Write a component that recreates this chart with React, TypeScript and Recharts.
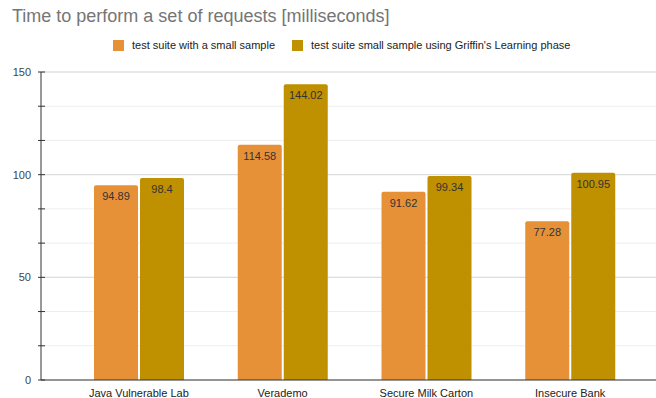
import { BarChart, Bar, XAxis, YAxis, CartesianGrid, LabelList } from 'recharts';

const projects = ['Java Vulnerable Lab', 'Verademo', 'Secure Milk Carton', 'Insecure Bank'];
const smallSample = [94.89, 114.58, 91.62, 77.28];
const learningPhase = [98.4, 144.02, 99.34, 100.95];
const yTicks = [0, 50 / 3, 100 / 3, 50, 200 / 3, 250 / 3, 100, 350 / 3, 400 / 3, 150];
const majorTicks = [50, 100, 150];
const Y_MAX = 150;

const SERIES = [
  { key: 'small', name: 'test suite with a small sample', color: '#e69138' },
  { key: 'learning', name: "test suite small sample using Griffin's Learning phase", color: '#bf9000' },
];

const data = projects.map((name, i) => ({
  name,
  small: smallSample[i],
  learning: learningPhase[i],
}));

const FONT = '"Liberation Sans", Arial, sans-serif';

const YTick = (props: any) => {
  const { x, y, payload } = props;
  const v = payload.value;
  const isMajor = Math.abs(v - Math.round(v / 50) * 50) < 0.01;
  return (
    <g>
      <line x1={x + 7} x2={x + 14} y1={y} y2={y} stroke="#333" strokeWidth={1} />
      {isMajor && (
        <text x={x} y={y} dy={4} textAnchor="end" fontSize={11} fill="#444" fontFamily={FONT}>
          {Math.round(v)}
        </text>
      )}
    </g>
  );
};

// major gridlines, mapped by hand from the plot offset
const majorLines = ({ offset }: any) =>
  majorTicks.map((v) => offset.top + offset.height * (1 - v / Y_MAX));

export default function App() {
  return (
    <div style={{ position: 'absolute', left: 0, top: 0, width: 656, height: 398, background: '#fff' }}>
      <div
        style={{
          position: 'absolute',
          left: 12,
          top: 6,
          fontFamily: FONT,
          fontSize: 18,
          color: '#757575',
          whiteSpace: 'nowrap',
        }}
      >
        Time to perform a set of requests [milliseconds]
      </div>
      {/* legend */}
      <div
        style={{
          position: 'absolute',
          top: 39,
          left: 113,
          display: 'flex',
          fontFamily: FONT,
          fontSize: 11,
          color: '#222',
          whiteSpace: 'nowrap',
        }}
      >
        {SERIES.map((s, i) => (
          <div key={s.key} style={{ display: 'flex', alignItems: 'center', marginLeft: i ? 17 : 0 }}>
            <span style={{ width: 11, height: 11, background: s.color, display: 'inline-block', marginRight: 8 }} />
            <span>{s.name}</span>
          </div>
        ))}
      </div>
      <BarChart
        width={656}
        height={398}
        data={data}
        margin={{ top: 72, right: 0, bottom: 0, left: 0 }}
        barGap={2}
        barSize={44}
      >
        <CartesianGrid vertical={false} stroke="#eeeeee" />
        <CartesianGrid vertical={false} stroke="#d9d9d9" horizontalCoordinatesGenerator={majorLines} />
        <XAxis
          dataKey="name"
          height={18}
          padding={{ left: 26, right: 14 }}
          stroke="#333"
          tickLine={false}
          tickMargin={3}
          tick={{ fontSize: 11, fill: '#222', fontFamily: FONT }}
          interval={0}
        />
        <YAxis
          width={41}
          domain={[0, Y_MAX]}
          ticks={yTicks}
          interval={0}
          stroke="#333"
          tickLine={false}
          tickSize={0}
          tickMargin={10}
          tick={<YTick />}
        />
        {SERIES.map((s) => (
          <Bar key={s.key} dataKey={s.key} name={s.name} fill={s.color} radius={[2, 2, 0, 0]} isAnimationActive={false}>
            <LabelList
              dataKey={s.key}
              position="insideTop"
              offset={7}
              fontSize={11}
              fill="#333"
              fontFamily={FONT}
            />
          </Bar>
        ))}
      </BarChart>
    </div>
  );
}
